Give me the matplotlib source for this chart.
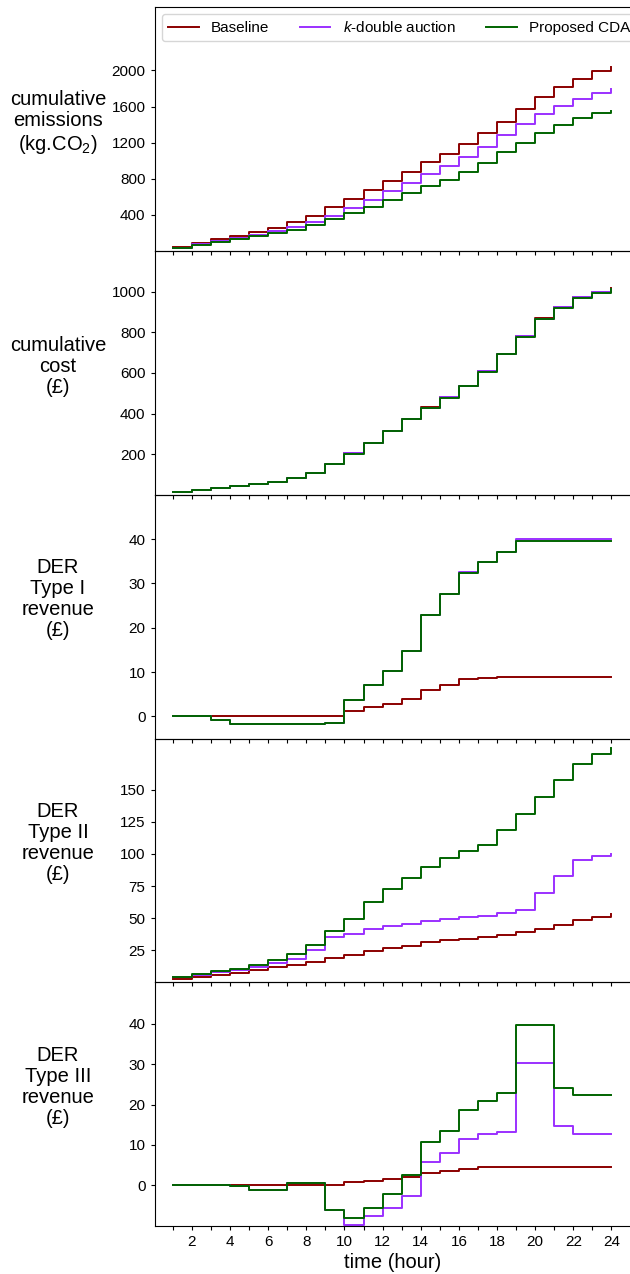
import numpy as np
import matplotlib
matplotlib.use("Agg")
import matplotlib.pyplot as plt
from matplotlib.ticker import FixedLocator

plt.rcParams['font.family'] = ['Liberation Sans', 'DejaVu Sans']
plt.rcParams['mathtext.fontset'] = 'custom'
plt.rcParams['mathtext.rm'] = 'Liberation Sans'
plt.rcParams['mathtext.it'] = 'Liberation Sans:italic'

hours = list(range(1, 25))
series_names = ["Baseline", "$k$-double auction", "Proposed CDA"]
colors = ["#8b0000", "#9b30ff", "#006400"]

emis_base = [44, 89, 130, 170, 215, 259, 322, 389, 485, 581, 678, 778, 878, 981,
             1078, 1185, 1304, 1433, 1574, 1707, 1819, 1911, 1993, 2037]
emis_kda = [37, 78, 115, 144, 181, 222, 267, 322, 393, 481, 570, 667, 756, 852,
            941, 1044, 1156, 1282, 1404, 1522, 1604, 1682, 1752, 1800]
emis_cda = [30, 70, 104, 133, 167, 200, 237, 285, 352, 422, 489, 567, 644, 715,
            789, 874, 978, 1093, 1193, 1311, 1396, 1470, 1526, 1552]

cost_base = [14, 24, 34, 44, 55, 64, 82, 108, 152, 204, 254, 315, 375, 430,
             480, 536, 609, 694, 782, 868, 926, 974, 1000, 1016]
cost_kda = [14, 23.5, 33.5, 43.5, 54, 63.5, 81.5, 107.5, 151.5, 203.5, 253.5, 314.5, 375, 429,
            479, 535, 608, 693, 780, 866, 924, 972, 998, 1014]
cost_cda = [13.5, 23, 33, 43, 53, 63, 81, 107, 151, 203, 253, 314, 374, 428,
            478, 534, 606, 691, 777, 863, 921, 969, 995, 1011]

t1_base = [0, 0, 0, 0, 0, 0, 0, 0, 0, 1.3, 2.2, 2.9, 3.9, 6.0,
           7.1, 8.4, 8.7, 8.85, 8.85, 8.85, 8.85, 8.85, 8.85, 8.85]
t1_kda = [0, 0, -0.9, -1.8, -1.8, -1.8, -1.8, -1.8, -1.6, 3.6, 7.0, 10.2, 14.7, 22.9,
          27.6, 32.5, 34.9, 37.2, 40.0, 40.0, 40.0, 40.0, 40.0, 40.0]
t1_cda = [0, 0, -0.9, -1.8, -1.8, -1.8, -1.8, -1.8, -1.6, 3.6, 7.0, 10.2, 14.7, 22.9,
          27.6, 32.4, 34.8, 37.1, 39.6, 39.6, 39.6, 39.6, 39.6, 39.6]

t2_base = [2.6, 3.9, 5.7, 7.6, 9.9, 11.7, 13.5, 16.1, 19.0, 21.6, 24.7, 26.8, 28.6, 31.0,
           32.6, 33.9, 34.9, 37.0, 39.3, 41.7, 44.5, 48.2, 50.8, 53.1]
t2_kda = [3.9, 6.0, 7.8, 9.9, 11.7, 15.4, 18.0, 25.3, 35.2, 38.0, 41.4, 43.5, 45.3, 47.7,
          49.2, 50.5, 51.8, 53.9, 56.5, 69.3, 82.6, 95.1, 98.2, 100.0]
t2_cda = [4.4, 6.8, 8.6, 10.7, 13.3, 17.4, 22.1, 29.4, 39.8, 49.7, 62.8, 72.4, 81.0, 89.8,
          96.9, 102.1, 106.8, 119.0, 131.5, 144.3, 157.3, 169.8, 177.6, 182.6]

t3_base = [0, 0, 0, 0, 0, 0, 0, 0, 0, 0.7, 1.1, 1.6, 2.1, 3.0,
           3.6, 4.1, 4.4, 4.5, 4.5, 4.5, 4.5, 4.5, 4.5, 4.5]
t3_kda = [0, 0, 0, -0.3, -1.1, -1.1, 0.6, 0.6, -6.2, -9.9, -7.7, -5.6, -2.7, 5.7,
          8.1, 11.4, 12.7, 13.3, 30.4, 30.4, 14.7, 12.7, 12.7, 12.7]
t3_cda = [0, 0, 0, -0.3, -1.1, -1.1, 0.6, 0.6, -6.2, -8.0, -5.7, -2.1, 2.5, 10.8,
          13.4, 18.6, 20.9, 22.9, 39.8, 39.8, 24.2, 22.3, 22.3, 22.3]

panels = [
    ((emis_base, emis_kda, emis_cda), "cumulative\nemissions\n(kg.CO$_2$)", (0, 2700), [400, 800, 1200, 1600, 2000], 0.525),
    ((cost_base, cost_kda, cost_cda), "cumulative\ncost\n(£)", (0, 1200), [200, 400, 600, 800, 1000], 0.525),
    ((t1_base, t1_kda, t1_cda), "DER\nType I\nrevenue\n(£)", (-5, 50), [0, 10, 20, 30, 40], 0.572),
    ((t2_base, t2_kda, t2_cda), "DER\nType II\nrevenue\n(£)", (0, 190), [25, 50, 75, 100, 125, 150], 0.572),
    ((t3_base, t3_kda, t3_cda), "DER\nType III\nrevenue\n(£)", (-10.1, 50.3), [0, 10, 20, 30, 40], 0.572),
]

W, H = 630, 1274
fig = plt.figure(figsize=(W / 100, H / 100), dpi=100)
left = 154.7 / W
width = 631.5 / W - left
top_px = 7.3
bot_px = 1226.0
ph = (bot_px - top_px) / 5

axes = []
for i, (data, label, ylim, yticks, ly) in enumerate(panels):
    y0 = 1 - (top_px + (i + 1) * ph) / H
    ax = fig.add_axes([left, y0, width, ph / H])
    ax.set_facecolor('none')
    for vals, name, c in zip(data, series_names, colors):
        ax.step(hours, vals, where='post', color=c, lw=1.4, label=name)
    ax.set_xlim(0.05, 25.05)
    ax.set_ylim(*ylim)
    ax.yaxis.set_major_locator(FixedLocator(yticks))
    ax.xaxis.set_major_locator(FixedLocator(list(range(2, 25, 2))))
    ax.xaxis.set_minor_locator(FixedLocator(list(range(1, 25, 2))))
    ax.tick_params(axis='both', which='both', direction='out', length=3.2, width=0.8,
                   labelsize=11, top=False, right=False)
    ax.spines['right'].set_visible(False)
    if i < 4:
        ax.tick_params(axis='x', labelbottom=False)
    ax.set_ylabel(label, rotation=0, fontsize=14.5, ha='center', va='center', linespacing=1.13)
    ax.yaxis.set_label_coords(-0.203, ly)
    axes.append(ax)

axes[-1].set_xlabel("time (hour)", fontsize=14.5, labelpad=3)

handles, labels = axes[0].get_legend_handles_labels()
fig.legend(handles, labels, loc='upper left', ncol=3, fontsize=11,
           bbox_to_anchor=(162 / W, 1 - 14 / H), bbox_transform=fig.transFigure,
           borderaxespad=0.0)

fig.savefig("out.png", dpi=100)
